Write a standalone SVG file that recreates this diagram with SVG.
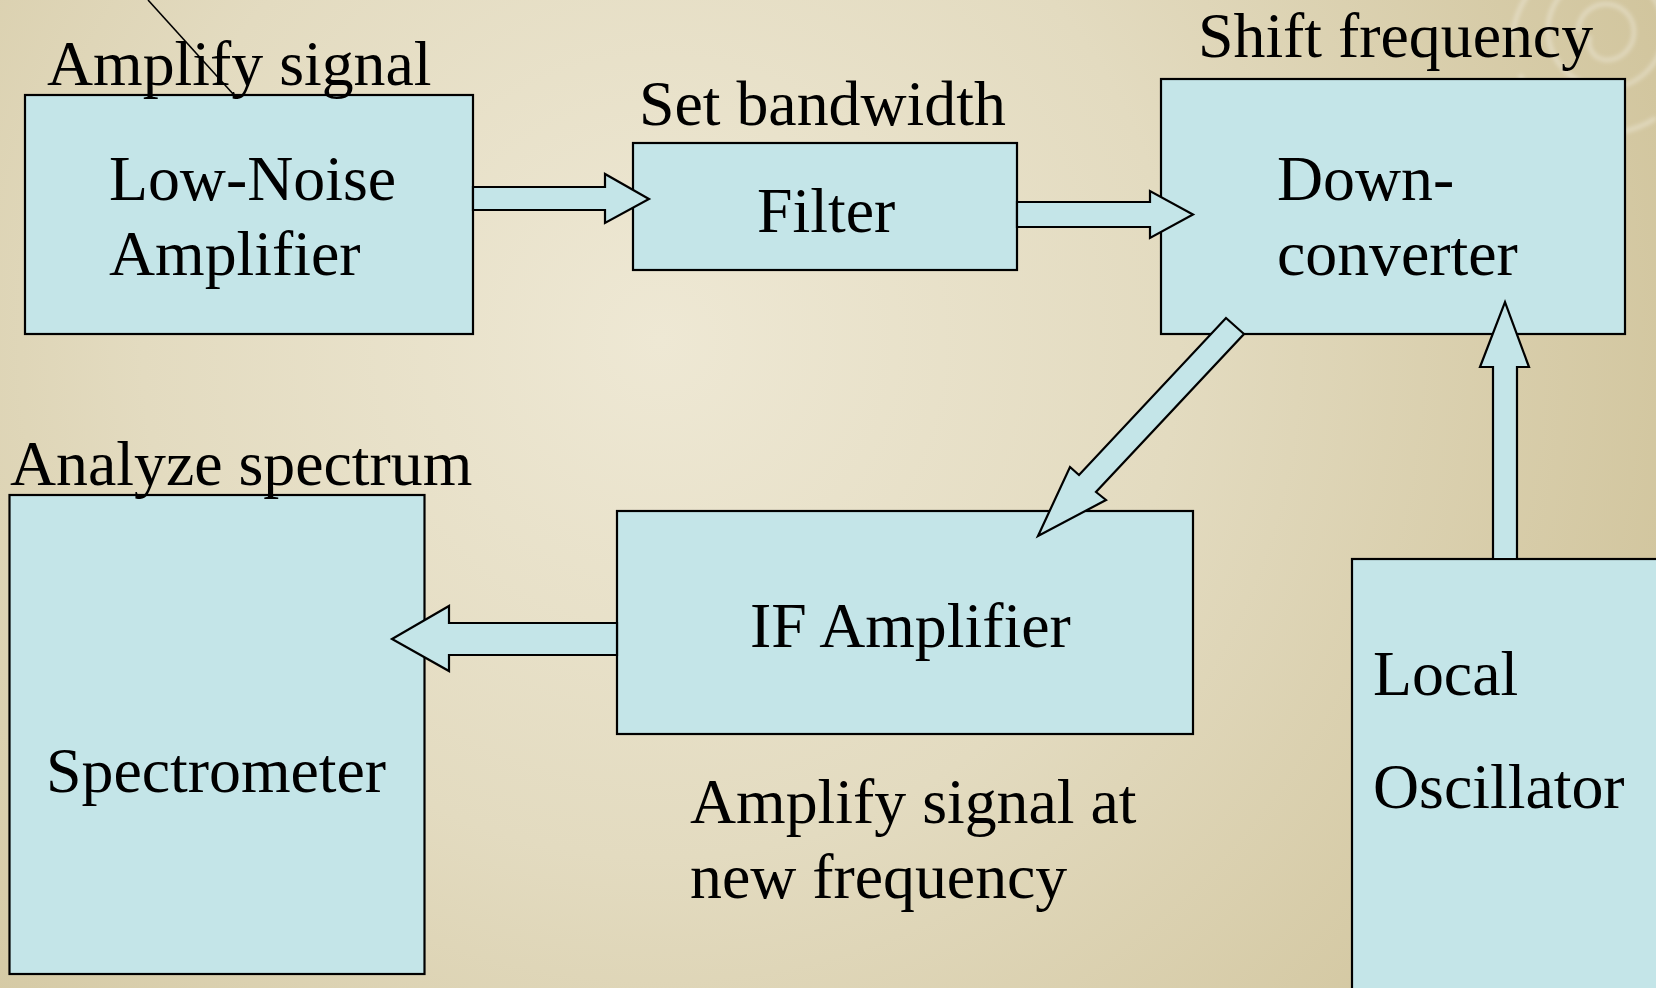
<svg xmlns="http://www.w3.org/2000/svg" width="1656" height="988" viewBox="0 0 1656 988">
  <defs>
    <radialGradient id="bg" gradientUnits="userSpaceOnUse" cx="660" cy="340" r="1150">
      <stop offset="0" stop-color="#EEE8D4"/>
      <stop offset="0.45" stop-color="#E3DBC0"/>
      <stop offset="1" stop-color="#CEC197"/>
    </radialGradient>
    <filter id="soft" x="-20%" y="-20%" width="140%" height="140%">
      <feGaussianBlur stdDeviation="2.2"/>
    </filter>
  </defs>
  <style>
    .box { fill: #C4E5E8; stroke: #000; stroke-width: 2.2; }
    .arr { fill: #C4E5E8; stroke: #000; stroke-width: 2.2; stroke-linejoin: miter; }
    text { font-family: "Liberation Serif", "Times New Roman", serif; font-size: 63.8px; fill: #000; }
    .swirl { fill: none; stroke: #FFFFFF; stroke-opacity: 0.35; stroke-width: 4; }
  </style>

  <rect x="0" y="0" width="1656" height="988" fill="url(#bg)"/>

  <g id="decoration" filter="url(#soft)">
    <path class="swirl" d="M1512,40 A95,95 0 0 1 1700,30"/>
    <path class="swirl" d="M1520,75 A92,92 0 0 0 1656,118"/>
    <path class="swirl" d="M1548,35 A58,58 0 0 1 1664,28 A58,58 0 0 1 1600,88 A60,60 0 0 1 1548,35"/>
    <path class="swirl" d="M1578,32 A28,28 0 1 1 1606,60 A18,18 0 0 1 1590,36"/>
  </g>

  <g id="lna">
    <rect class="box" x="25" y="95" width="448" height="239"/>
    <text x="109" y="200">Low-Noise</text>
    <text x="109" y="275">Amplifier</text>
  </g>

  <g id="filter">
    <rect class="box" x="633" y="143" width="384" height="127"/>
    <text x="757" y="232">Filter</text>
  </g>

  <g id="downconverter">
    <rect class="box" x="1161" y="79" width="464" height="255"/>
    <text x="1277" y="200">Down-</text>
    <text x="1277" y="275">converter</text>
  </g>

  <g id="if-amplifier">
    <rect class="box" x="617" y="511" width="576" height="223"/>
    <text x="750" y="647">IF Amplifier</text>
  </g>

  <g id="spectrometer">
    <rect class="box" x="9.5" y="495" width="415" height="479"/>
    <text x="46" y="792">Spectrometer</text>
  </g>

  <g id="local-oscillator">
    <rect class="box" x="1352" y="559" width="420" height="500"/>
    <text x="1373" y="695">Local</text>
    <text x="1373" y="808">Oscillator</text>
  </g>

  <g id="labels">
    <text x="47" y="85">Amplify signal</text>
    <text x="639" y="125">Set bandwidth</text>
    <text x="1198" y="57">Shift frequency</text>
    <text x="10" y="485">Analyze spectrum</text>
    <text x="690" y="823">Amplify signal at</text>
    <text x="690" y="898">new frequency</text>
  </g>

  <g id="connectors">
    <polygon class="arr" points="473,187 605,187 605,174 649,199 605,223 605,210 473,210"/>
    <polygon class="arr" points="1017,202 1150,202 1150,191 1193,214.5 1150,238 1150,227 1017,227"/>
    <polygon class="arr" points="1226,318 1244,334 1096,492 1106,500 1038,536 1070,467 1079,475"/>
    <polygon class="arr" points="1493,559 1493,367 1480,367 1505,302 1529,367 1517,367 1517,559"/>
    <polygon class="arr" points="617,623 449,623 449,606 392,639 449,671 449,655 617,655"/>
    <line x1="148" y1="0" x2="234" y2="95" stroke="#000" stroke-width="1.6"/>
  </g>
</svg>
